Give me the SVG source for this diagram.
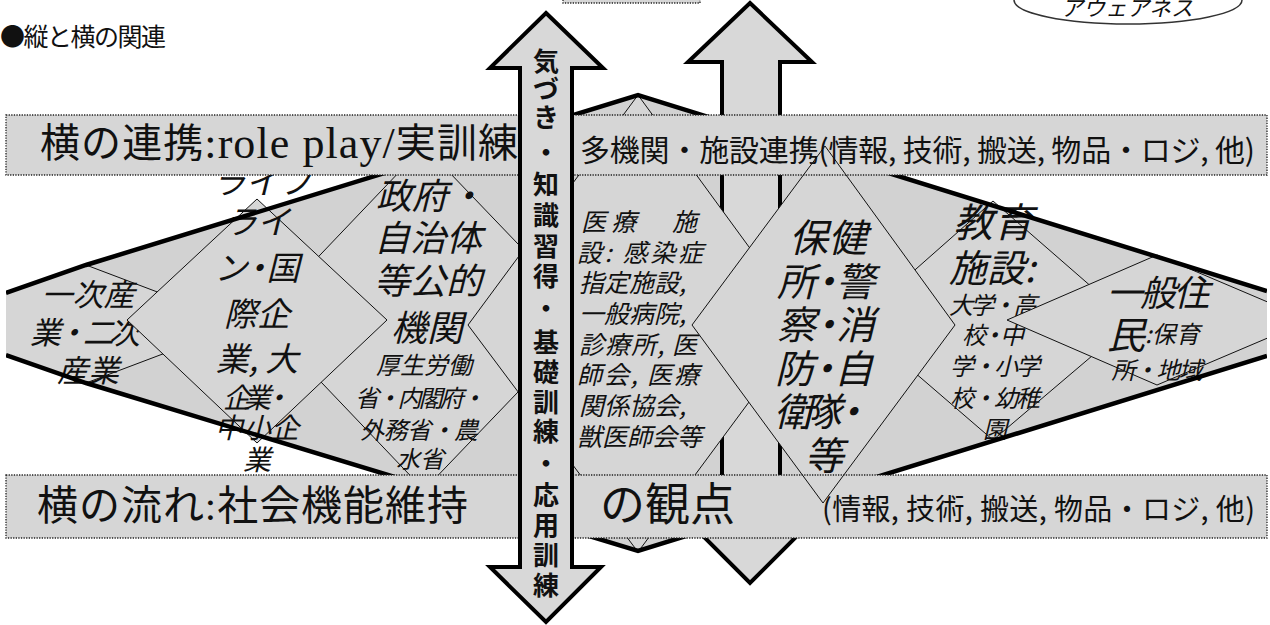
<svg xmlns="http://www.w3.org/2000/svg" width="1270" height="625" viewBox="0 0 1270 625">
<defs>
<style>
.jp{font-family:"Noto Sans CJK JP","Noto Sans",sans-serif;fill:#111;}
.ser{font-family:"Liberation Serif","Noto Sans CJK JP",serif;fill:#111;}
.it{font-style:italic;}
.b{font-weight:bold;}
.c{text-anchor:middle;}
text{dominant-baseline:central;}
.dia{fill:#d6d6d6;stroke:#111;stroke-width:1;stroke-linejoin:miter;}
.lens{fill:#d2d2d2;stroke:none;}
.lensline{fill:none;stroke:#000;stroke-width:4.5;stroke-linejoin:miter;}
.bandfill{fill:#d6d6d6;stroke:none;}
.bandline{fill:none;stroke:#222;stroke-width:1.3;stroke-dasharray:1.3 1.3;}
.arrow{fill:#d8d8d8;stroke:#000;stroke-width:4;stroke-linejoin:miter;}
</style>
<clipPath id="page"><rect x="6" y="0" width="1261" height="625"/></clipPath>
</defs>
<rect x="0" y="0" width="1270" height="625" fill="#fff"/>

<g id="title"><text x="0" y="35" class="jp" font-size="25" textLength="166" lengthAdjust="spacing">●縦と横の関連</text></g>

<g id="awareness">
<ellipse cx="1128" cy="0" rx="114" ry="24" fill="#fff" stroke="#333" stroke-width="1.5"/>
<text x="1127" y="6" class="jp it c" font-size="22">アウェアネス</text>
</g>

<g id="top-box">
<rect x="563" y="-20" width="137" height="23" class="bandfill"/>
<rect x="563" y="-20" width="137" height="23" class="bandline"/>
</g>

<g clip-path="url(#page)">
<g id="lens"><polygon class="lens" points="6,293 86,265 638,95 1267,291 1267,356 638,551 86,383 6,355"/></g>

<g id="connectors-back">
<polygon id="arrow-right" class="arrow" points="750,3 812,62 780,62 780,521 812,521 750,583 688,521 722,521 722,62 688,62"/>
</g>

<g id="n-gov">
<polygon class="dia" points="424,146 589,318 424,490 260,318"/>
<text class="jp it c" x="430" y="193" font-size="36">政府・</text>
<text class="jp it c" x="428" y="235" font-size="36">自治体</text>
<text class="jp it c" x="428" y="278" font-size="36">等公的</text>
<text class="jp it c" x="427" y="325" font-size="36">機関</text>
<text class="jp it c" x="424" y="363" font-size="24">厚生労働</text>
<text class="jp it c" x="420" y="396" font-size="24" textLength="130" lengthAdjust="spacing">省・内閣府・</text>
<text class="jp it c" x="419" y="428" font-size="24" textLength="118" lengthAdjust="spacing">外務省・農</text>
<text class="jp it c" x="420" y="457" font-size="24">水省</text>
</g>

<g id="n-primary">
<polygon class="dia" points="86,265 242,324 86,383 -84,324"/>
<text class="jp it c" x="88" y="292" font-size="31">一次産</text>
<text class="jp it c" x="85" y="330" font-size="31" textLength="110" lengthAdjust="spacing">業・二次</text>
<text class="jp it c" x="88" y="368" font-size="31">産業</text>
</g>

<g id="n-lifeline">
<polygon class="dia" points="257,199 387,320 257,443 127,320"/>
<text class="jp it c" x="262" y="180" font-size="33">ライフ</text>
<text class="jp it c" x="257" y="220" font-size="33">ライ</text>
<text class="jp it c" x="257" y="266" font-size="33" textLength="85" lengthAdjust="spacing">ン・国</text>
<text class="jp it c" x="257" y="312" font-size="33">際企</text>
<text class="jp it c" x="257" y="357" font-size="33">業, 大</text>
<text class="jp it c" x="257" y="396" font-size="28" textLength="68" lengthAdjust="spacing">企業・</text>
<text class="jp it c" x="257" y="426" font-size="28">中小企</text>
<text class="jp it c" x="257" y="458" font-size="28">業</text>
</g>

<g id="n-medical">
<polygon class="dia" points="638,95 806,325 638,552 468,325"/>
<text class="jp it" x="581" y="220" font-size="25" textLength="116" lengthAdjust="spacing">医療　施</text>
<text class="jp it" x="577" y="251" font-size="25" textLength="126" lengthAdjust="spacing">設: 感染症</text>
<text class="jp it" x="579" y="281" font-size="25">指定施設,</text>
<text class="jp it" x="579" y="312" font-size="25">一般病院,</text>
<text class="jp it" x="579" y="343" font-size="25" textLength="118" lengthAdjust="spacing">診療所, 医</text>
<text class="jp it" x="577" y="373" font-size="25" textLength="122" lengthAdjust="spacing">師会, 医療</text>
<text class="jp it" x="579" y="404" font-size="25">関係協会,</text>
<text class="jp it" x="577" y="435" font-size="25">獣医師会等</text>
</g>

<g id="n-edu">
<polygon class="dia" points="993,201 1132,322 993,440 856,322"/>
<text class="jp it c" x="993" y="220" font-size="40">教育</text>
<text class="jp it c" x="992" y="265" font-size="38">施設:</text>
<text class="jp it c" x="993" y="303" font-size="24" textLength="88" lengthAdjust="spacing">大学・高</text>
<text class="jp it c" x="993" y="333" font-size="24" textLength="62" lengthAdjust="spacing">校・中</text>
<text class="jp it c" x="995" y="364" font-size="24" textLength="90" lengthAdjust="spacing">学・小学</text>
<text class="jp it c" x="995" y="396" font-size="24" textLength="90" lengthAdjust="spacing">校・幼稚</text>
<text class="jp it c" x="995" y="427" font-size="24">園</text>
</g>

<g id="n-resident">
<polygon class="dia" points="1157,255 1310,320 1157,385 1007,320"/>
<text class="jp it c" x="1158" y="290" font-size="36" textLength="103" lengthAdjust="spacing">一般住</text>
<text class="jp it" x="1107" y="332" font-size="38">民<tspan font-size="24">:保育</tspan></text>
<text class="jp it c" x="1157" y="368" font-size="24" textLength="91" lengthAdjust="spacing">所・地域</text>
</g>

<g id="lens-outline">
<polyline class="lensline" points="6,293 86,265 638,95 1267,291"/>
<polyline class="lensline" points="6,355 86,383 638,551 1267,356"/>
</g>
</g>

<g id="bands-fill">
<rect x="6" y="115" width="1261" height="60" class="bandfill"/>
<rect x="6" y="475" width="1261" height="63" class="bandfill"/>
</g>

<g id="n-health">
<polygon class="dia" points="825,146 955,325 823,503 692,325"/>
<text class="jp it c" x="828" y="235" font-size="39">保健</text>
<text class="jp it c" x="826" y="279" font-size="39" textLength="98" lengthAdjust="spacing">所・警</text>
<text class="jp it c" x="826" y="322" font-size="39" textLength="98" lengthAdjust="spacing">察・消</text>
<text class="jp it c" x="824" y="366" font-size="39" textLength="98" lengthAdjust="spacing">防・自</text>
<text class="jp it c" x="822" y="409" font-size="39" textLength="96" lengthAdjust="spacing">衛隊・</text>
<text class="jp it c" x="824" y="453" font-size="39">等</text>
</g>

<g id="band-top">
<rect x="6" y="115" width="1261" height="60" class="bandline"/>
<text class="ser" x="40" y="143" font-size="40" textLength="478" lengthAdjust="spacing">横の連携<tspan font-size="44">:role play/</tspan>実訓練</text>
<text class="jp" x="580" y="148" font-size="30" textLength="675" lengthAdjust="spacing">多機関・施設連携(情報, 技術, 搬送, 物品・ロジ, 他)</text>
</g>

<g id="band-bottom">
<rect x="6" y="475" width="1261" height="63" class="bandline"/>
<text class="ser" y="506" font-size="41"><tspan x="37" textLength="431" lengthAdjust="spacing">横の流れ:社会機能維持</tspan><tspan x="600" font-size="45">の観点</tspan></text>
<text class="jp" x="822" y="507" font-size="29" textLength="433" lengthAdjust="spacing">(情報, 技術, 搬送, 物品・ロジ, 他)</text>
</g>

<g id="connectors-front">
<polygon id="arrow-left" class="arrow" points="546,13 603,68 572,68 572,567 601,567 546,622 490,567 520,567 520,68 490,68"/>
<text class="jp b c" font-size="26"><tspan x="546" y="59">気</tspan><tspan x="546" y="87">づ</tspan><tspan x="546" y="115">き</tspan><tspan x="546" y="150">・</tspan><tspan x="546" y="182">知</tspan><tspan x="546" y="213">識</tspan><tspan x="546" y="244">習</tspan><tspan x="546" y="274">得</tspan><tspan x="546" y="306">・</tspan><tspan x="546" y="340">基</tspan><tspan x="546" y="370">礎</tspan><tspan x="546" y="400">訓</tspan><tspan x="546" y="429">練</tspan><tspan x="546" y="461">・</tspan><tspan x="546" y="493">応</tspan><tspan x="546" y="523">用</tspan><tspan x="546" y="553">訓</tspan><tspan x="546" y="583">練</tspan></text>
</g>
</svg>
